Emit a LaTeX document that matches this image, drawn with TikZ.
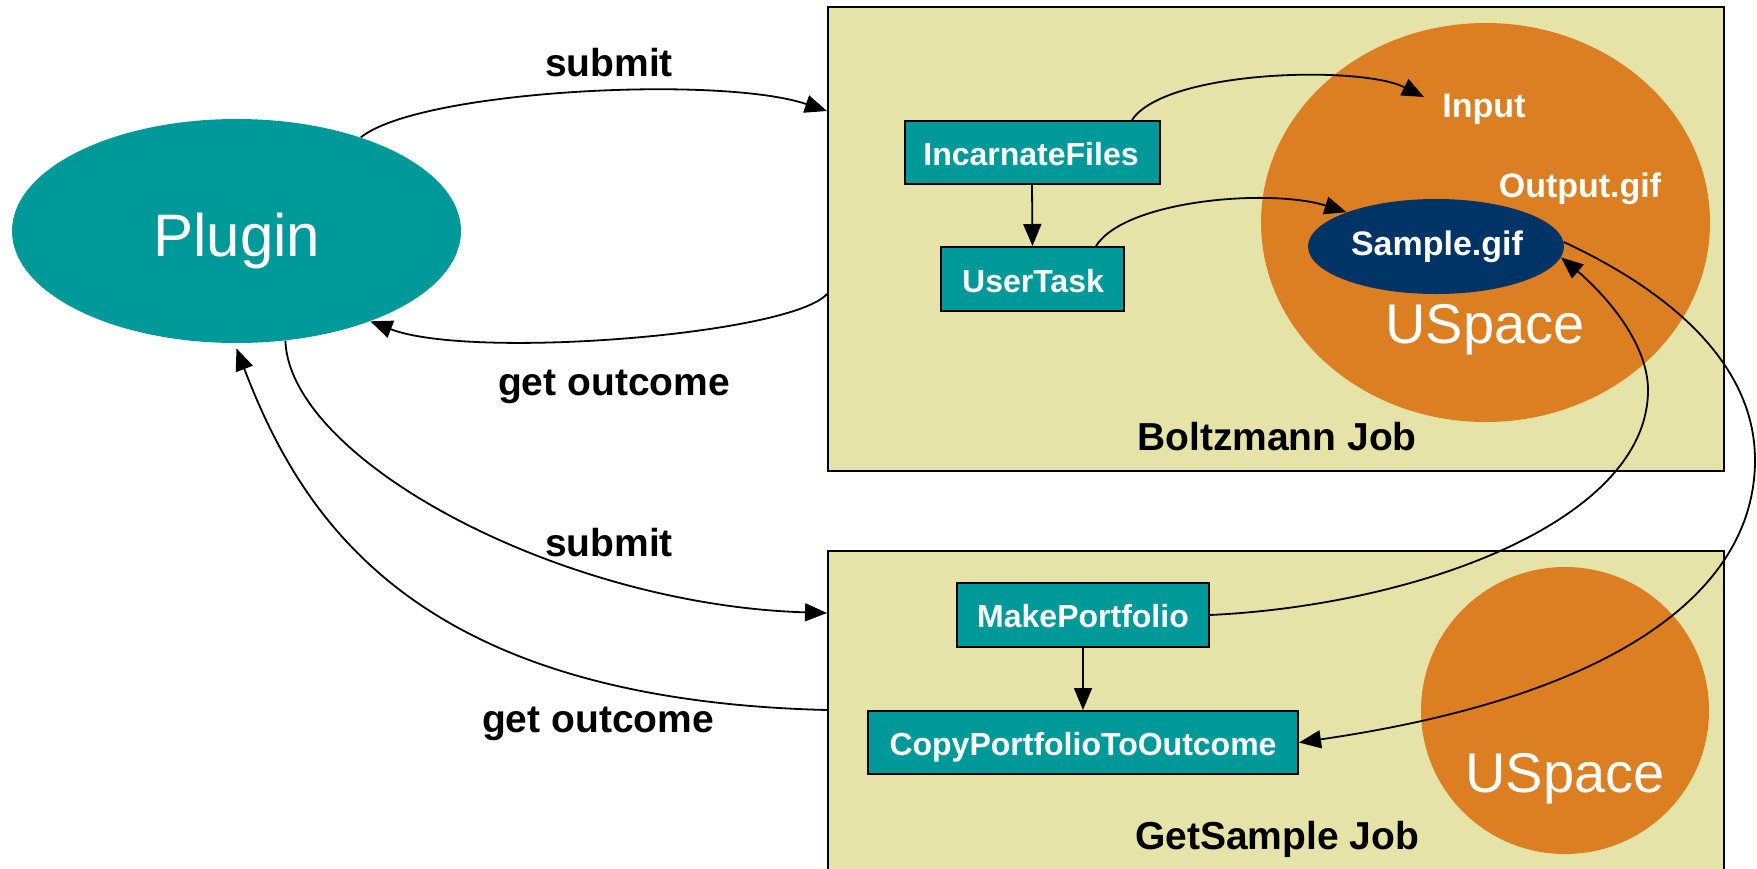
\documentclass[tikz,border=0pt]{standalone}
\usepackage{fontspec}
\setmainfont{Liberation Sans}
\usetikzlibrary{arrows.meta,calc,shapes.geometric}

\definecolor{jobfill}{RGB}{230,227,168}
\definecolor{taskteal}{RGB}{0,153,153}
\definecolor{spaceorange}{RGB}{220,126,34}
\definecolor{filenavy}{RGB}{0,51,102}

\begin{document}
\begin{tikzpicture}[x=0.5pt,y=-0.5pt,
  jobbox/.style={rectangle, draw=black, line width=1pt, fill=jobfill, inner sep=0pt},
  taskbox/.style={rectangle, draw=black, line width=1pt, fill=taskteal, inner sep=0pt},
  spaceblob/.style={ellipse, fill=spaceorange, inner sep=0pt},
  conn/.style={line width=0.9pt, -{Triangle[length=11pt,width=9pt]}},
  lbl/.style={anchor=base, inner sep=0pt, font=\fontsize{19.5}{22}\selectfont\bfseries},
  tasklbl/.style={anchor=base, inner sep=0pt, text=white, font=\fontsize{16}{18}\selectfont\bfseries},
  filelbl/.style={anchor=base, inner sep=0pt, text=white, font=\fontsize{17}{19}\selectfont\bfseries},
  biglbl/.style={anchor=base, inner sep=0pt, text=white, font=\fontsize{28}{32}\selectfont},
]
\useasboundingbox (0,0) rectangle (1757,868);

% job containers
\node[jobbox, minimum width=448pt, minimum height=232pt] (box1) at (1276,239) {};
\node[jobbox, minimum width=448pt, minimum height=159.5pt] (box2) at (1276,710.5) {};

% user spaces and files
\node[spaceblob, minimum width=224.5pt, minimum height=199.5pt] (uspace1) at (1485.5,222.5) {};
\node[ellipse, fill=filenavy, inner sep=0pt, minimum width=128pt, minimum height=47.5pt] (sample) at (1436,246.5) {};
\node[spaceblob, minimum width=144pt, minimum height=143.5pt] (uspace2) at (1565,710.5) {};

% plugin
\node[ellipse, fill=taskteal, inner sep=0pt, minimum width=224.5pt, minimum height=112pt] (plugin) at (236.5,231) {};
\node[anchor=base, inner sep=0pt, text=white, font=\fontsize{30}{34}\selectfont] (tplugin) at (237,256) {Plugin};

% tasks
\node[taskbox, minimum width=127.5pt, minimum height=31.5pt] (incarnate) at (1032,152.5) {};
\node[taskbox, minimum width=91.5pt, minimum height=32pt] (usertask) at (1032.5,279) {};
\node[taskbox, minimum width=126pt, minimum height=32pt] (mp) at (1083,615) {};
\node[taskbox, minimum width=215pt, minimum height=31.5pt] (copy) at (1083,742.5) {};

\node[tasklbl] (tincarnate) at (1031,165) {IncarnateFiles};
\node[tasklbl] (tusertask) at (1033,292) {UserTask};
\node[tasklbl] (tmp) at (1083,627) {MakePortfolio};
\node[tasklbl] (tcopy) at (1083,755) {CopyPortfolioToOutcome};

% file and space labels
\node[filelbl] (input) at (1484,117) {Input};
\node[filelbl] (output) at (1580,197) {Output.gif};
\node[filelbl] (tsample) at (1437,255) {Sample.gif};
\node[biglbl] (tuspace1) at (1485,343) {USpace};
\node[biglbl] (tuspace2) at (1565,792) {USpace};

% job titles
\node[lbl] (tbox1) at (1277,450) {Boltzmann Job};
\node[lbl] (tbox2) at (1277,849) {GetSample Job};

% connector labels
\node[lbl] (lsubmit1) at (609,76) {submit};
\node[lbl] (lget1) at (614,395) {get outcome};
\node[lbl] (lsubmit2) at (609,556) {submit};
\node[lbl] (lget2) at (598,732) {get outcome};

% plugin <-> jobs
\draw[conn] (plugin.37) .. controls (420,90) and (720,75) .. ($(box1.north west)+(0,105)$);
\draw[conn] ($(box1.north west)+(0,288)$) .. controls (790,335) and (470,360) .. (plugin.-34);
\draw[conn] (plugin.-66) .. controls (290,460) and (560,605) .. ($(box2.north west)+(0,63)$);
\draw[conn] ($(box2.north west)+(0,160)$) .. controls (420,700) and (304,525) .. ($(plugin.south)+(0,5)$);

% inside the Boltzmann job
\draw[conn] (incarnate.south) -- (usertask.north);
\draw[conn] ($(incarnate.north east)+(-28.5,0)$) .. controls (1165,70) and (1360,65) .. ($(input.base)+(-60,-20)$);
\draw[conn] ($(usertask.north east)+(-29,0)$) .. controls (1125,200) and (1270,188) .. (sample.159);

% inside the GetSample job
\draw[conn] (mp.south) -- (copy.north);
\draw[conn] (mp.east) .. controls (1420,605) and (1648,520) .. (1648,390)
  .. controls (1648,340) and (1600,290) .. (sample.-5);
\draw[conn] (sample.2) .. controls (1663,288) and (1755,360) .. (1755,460)
  .. controls (1755,590) and (1619,696) .. (copy.east);
\end{tikzpicture}
\end{document}
